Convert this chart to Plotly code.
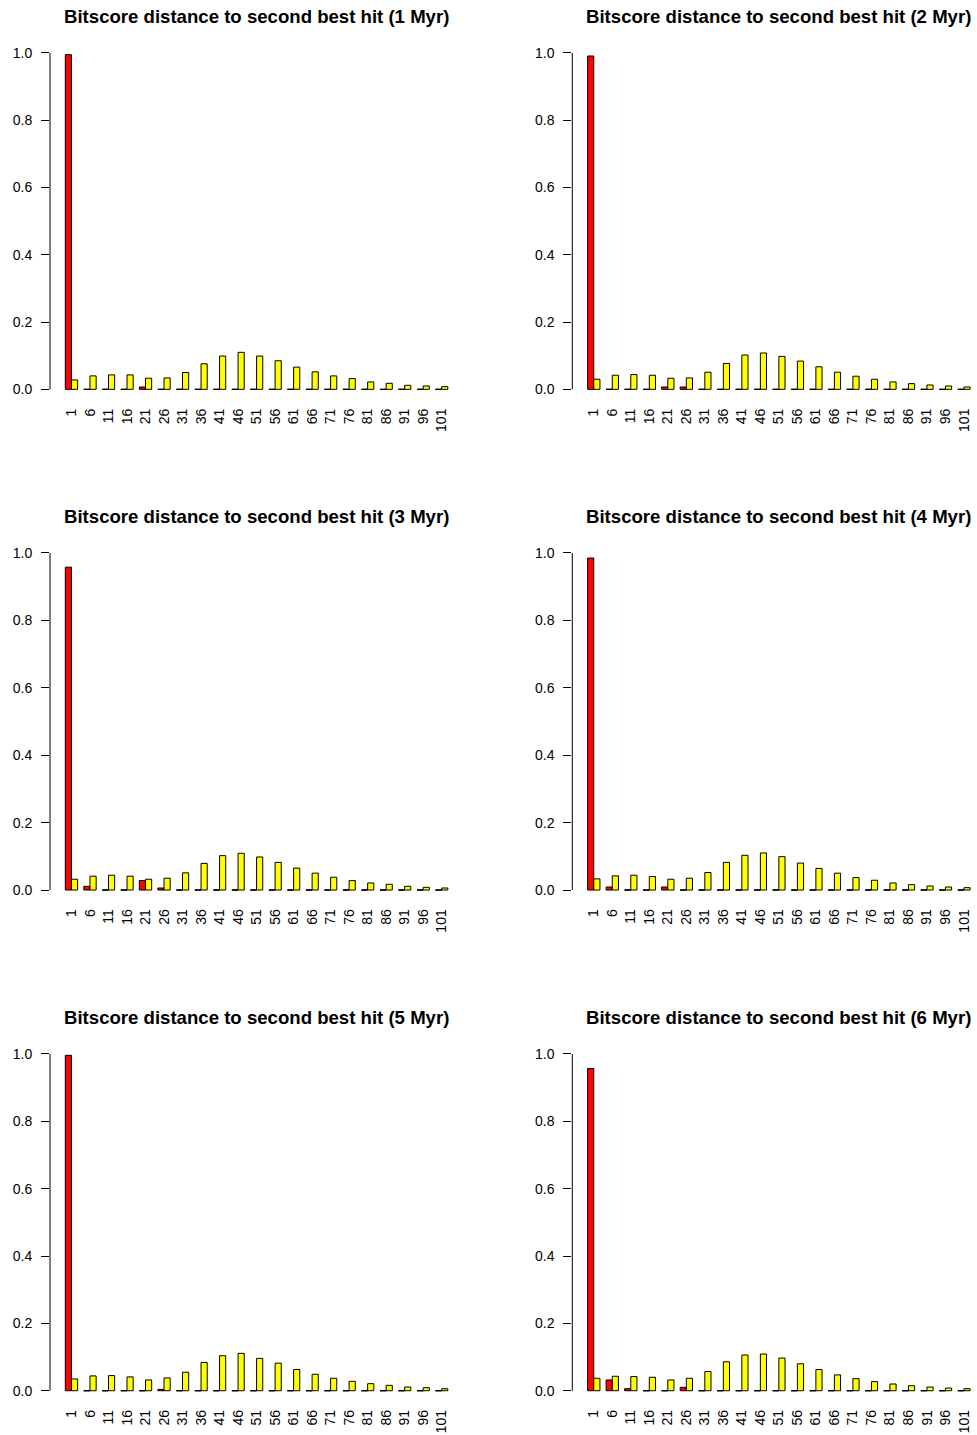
import plotly.graph_objects as go

categories = ["1", "6", "11", "16", "21", "26", "31", "36", "41", "46", "51",
              "56", "61", "66", "71", "76", "81", "86", "91", "96", "101"]

titles = ["Bitscore distance to second best hit (1 Myr)",
          "Bitscore distance to second best hit (2 Myr)",
          "Bitscore distance to second best hit (3 Myr)",
          "Bitscore distance to second best hit (4 Myr)",
          "Bitscore distance to second best hit (5 Myr)",
          "Bitscore distance to second best hit (6 Myr)"]

red_1myr = [0.995, 0, 0, 0, 0.007, 0, 0, 0, 0, 0, 0, 0, 0, 0, 0, 0, 0, 0, 0, 0, 0]
yellow_1myr = [0.028, 0.040, 0.043, 0.043, 0.033, 0.034, 0.050, 0.076, 0.099, 0.110, 0.099,
               0.085, 0.066, 0.052, 0.040, 0.032, 0.022, 0.018, 0.012, 0.010, 0.008]

red_2myr = [0.991, 0, 0, 0, 0.007, 0.007, 0, 0, 0, 0, 0, 0, 0, 0, 0, 0, 0, 0, 0, 0, 0]
yellow_2myr = [0.030, 0.042, 0.044, 0.042, 0.033, 0.034, 0.051, 0.077, 0.102, 0.108, 0.098,
               0.084, 0.067, 0.051, 0.039, 0.030, 0.022, 0.017, 0.013, 0.010, 0.007]

red_3myr = [0.958, 0.011, 0, 0, 0.028, 0.006, 0, 0, 0, 0, 0, 0, 0, 0, 0, 0, 0, 0, 0, 0, 0]
yellow_3myr = [0.032, 0.041, 0.044, 0.041, 0.032, 0.035, 0.051, 0.079, 0.102, 0.109, 0.098,
               0.082, 0.065, 0.050, 0.038, 0.028, 0.021, 0.017, 0.011, 0.008, 0.006]

red_4myr = [0.985, 0.009, 0, 0, 0.009, 0, 0, 0, 0, 0, 0, 0, 0, 0, 0, 0, 0, 0, 0, 0, 0]
yellow_4myr = [0.033, 0.042, 0.044, 0.040, 0.032, 0.035, 0.052, 0.082, 0.103, 0.110, 0.099,
               0.080, 0.064, 0.050, 0.037, 0.029, 0.021, 0.016, 0.012, 0.009, 0.007]

red_5myr = [0.996, 0, 0, 0, 0, 0.004, 0, 0, 0, 0, 0, 0, 0, 0, 0, 0, 0, 0, 0, 0, 0]
yellow_5myr = [0.035, 0.044, 0.045, 0.041, 0.032, 0.038, 0.055, 0.084, 0.104, 0.111, 0.096,
               0.082, 0.063, 0.049, 0.037, 0.028, 0.021, 0.016, 0.011, 0.009, 0.006]

red_6myr = [0.957, 0.032, 0.006, 0, 0, 0.010, 0, 0, 0, 0, 0, 0, 0, 0, 0, 0, 0, 0, 0, 0, 0]
yellow_6myr = [0.037, 0.043, 0.042, 0.040, 0.032, 0.037, 0.057, 0.086, 0.106, 0.109, 0.097,
               0.080, 0.063, 0.047, 0.036, 0.027, 0.020, 0.015, 0.011, 0.008, 0.006]

red_series = [red_1myr, red_2myr, red_3myr, red_4myr, red_5myr, red_6myr]
yellow_series = [yellow_1myr, yellow_2myr, yellow_3myr, yellow_4myr, yellow_5myr, yellow_6myr]

y_ticks = [0.0, 0.2, 0.4, 0.6, 0.8, 1.0]

W, H = 977, 1435
FONT = "Liberation Sans, Arial, Helvetica, sans-serif"

# layout geometry in pixels
col_left = [50.0, 572.3]
unit_px = 18.51           # pixels per category step
cat_lo = -1.16
row_top = [39.5, 539.5, 1040.5]
row_bot = [402.8, 903.5, 1404.2]
BW = 1 / 3                # each bar is a third of a category step

idx_pos = list(range(len(categories)))

fig = go.Figure()
layout = dict(
    width=W, height=H,
    margin=dict(l=0, r=0, t=0, b=0),
    paper_bgcolor="white", plot_bgcolor="white",
    showlegend=False,
    barmode="overlay",
    font=dict(family=FONT, size=14, color="black"),
    annotations=[], shapes=[],
)

for k in range(6):
    r, c = divmod(k, 2)
    idx = "" if k == 0 else str(k + 1)
    xa, ya = "x" + idx, "y" + idx
    x0 = col_left[c]
    x1 = min(W, x0 + unit_px * 22.32)
    cat_hi = cat_lo + (x1 - x0) / unit_px
    fig.add_trace(go.Bar(x=idx_pos, y=red_series[k], xaxis=xa, yaxis=ya,
                         offset=-BW, width=BW,
                         marker=dict(color="#FF0000", line=dict(color="black", width=1))))
    fig.add_trace(go.Bar(x=idx_pos, y=yellow_series[k], xaxis=xa, yaxis=ya,
                         offset=0, width=BW,
                         marker=dict(color="#FFFF00", line=dict(color="black", width=1))))
    # zero-height bars still show their outline at the baseline (as in R barplot)
    zx, zy = [], []
    for i, v in zip(idx_pos, red_series[k]):
        if v == 0:
            zx += [i - BW, i, None]
            zy += [0, 0, None]
    fig.add_trace(go.Scatter(x=zx, y=zy, xaxis=xa, yaxis=ya, mode="lines",
                             line=dict(color="black", width=1), hoverinfo="skip"))
    layout["xaxis" + idx] = dict(
        domain=[x0 / W, x1 / W], range=[cat_lo, cat_hi],
        anchor=ya, showline=False, showgrid=False, zeroline=False,
        tickmode="array", tickvals=idx_pos, ticktext=categories,
        ticks="", tickangle=-90, tickfont=dict(size=14), ticklabelstandoff=2,
    )
    layout["yaxis" + idx] = dict(
        domain=[1 - row_bot[r] / H, 1 - row_top[r] / H], range=[-0.04, 1.04],
        anchor=xa, showline=False, showgrid=False, zeroline=False,
        tickvals=y_ticks, tickformat=".1f", ticks="outside", ticklen=8,
        tickwidth=1, tickcolor="black", tickfont=dict(size=14), ticklabelstandoff=6,
    )
    layout["shapes"].append(dict(type="line", xref=xa + " domain", yref=ya,
                                 x0=0, x1=0, y0=y_ticks[0], y1=y_ticks[-1],
                                 line=dict(color="black", width=1)))
    cx = x0 + unit_px * 22.32 / 2
    layout["annotations"].append(dict(
        text="<b>" + titles[k] + "</b>", xref="paper", yref="paper",
        x=cx / W, y=1 - (row_top[r] - 23.5) / H, xanchor="center", yanchor="middle",
        showarrow=False, font=dict(size=18.6, family=FONT, color="black")))

fig.update_layout(**layout)
fig.write_html("out.html", config={"displayModeBar": False},
               post_script="document.body.style.margin='0';document.body.style.overflow='hidden';")
